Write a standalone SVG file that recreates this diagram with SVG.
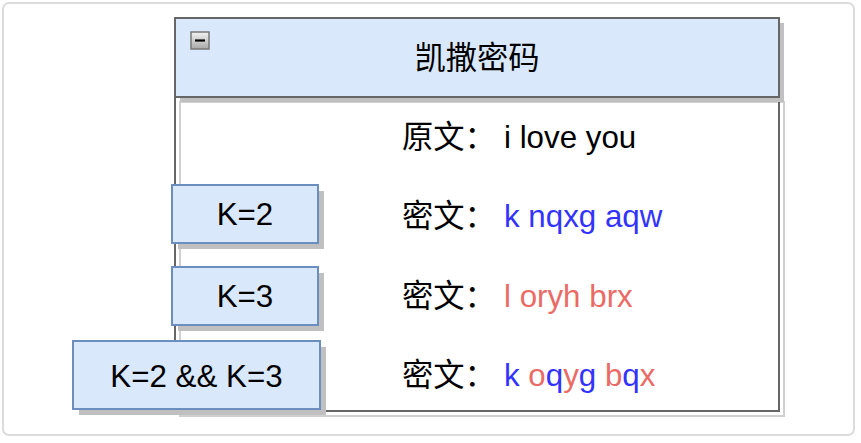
<svg xmlns="http://www.w3.org/2000/svg" width="861" height="443" viewBox="0 0 861 443">
  <defs>
    <linearGradient id="btn" x1="0" y1="0" x2="0" y2="1">
      <stop offset="0" stop-color="#f2f2f2"/>
      <stop offset="1" stop-color="#a8a8a8"/>
    </linearGradient>
    <style>
      text { font-family: "Liberation Sans", "Noto Sans CJK SC", sans-serif; font-size: 31.3px; fill: #000; }
      .box { fill: #dae8fc; stroke: #6c8ebf; stroke-width: 2; }
      .shadow { fill: #c0c0c0; stroke: none; }
      .frame { fill: #dae8fc; stroke: #666666; stroke-width: 2; }
      .body { fill: none; stroke: #666666; stroke-width: 2; }
      .bodyshadow { fill: none; stroke: #d0d0d0; stroke-width: 2; }
      .mid { text-anchor: middle; }
      .blue { fill: #3333ff; }
      .red { fill: #ea6b66; }
    </style>
  </defs>

  <rect x="3" y="3" width="851" height="432" rx="6" ry="6" fill="#ffffff" stroke="#dcdcdc" stroke-width="2"/>

  <g id="container">
    <rect class="bodyshadow" x="180" y="102" width="604" height="314"/>
    <rect class="body" x="175" y="97" width="604" height="314"/>
    <rect class="shadow" x="180" y="23" width="604" height="79"/>
    <rect class="frame" x="175" y="18" width="604" height="79"/>
    <rect x="191" y="32" width="18" height="17" fill="url(#btn)" stroke="#777777" stroke-width="1.5"/>
    <line x1="195" y1="40.5" x2="205" y2="40.5" stroke="#000" stroke-width="2.2"/>
    <text class="mid" x="477" y="69">凯撒密码</text>
  </g>

  <g id="rows">
    <text x="402" y="148">原文：</text>
    <text x="504" y="148">i love you</text>
    <text x="402" y="227">密文：</text>
    <text x="504" y="227" class="blue">k nqxg aqw</text>
    <text x="402" y="307">密文：</text>
    <text x="504" y="307" class="red">l oryh brx</text>
    <text x="402" y="386">密文：</text>
    <text x="504" y="386"><tspan class="blue">k </tspan><tspan class="red">o</tspan><tspan class="blue">q</tspan><tspan class="red">y</tspan><tspan class="blue">g </tspan><tspan class="red">b</tspan><tspan class="blue">q</tspan><tspan class="red">x</tspan></text>
  </g>

  <g id="k2">
    <rect class="shadow" x="178" y="191" width="146" height="58"/>
    <rect class="box" x="172" y="185" width="146" height="58"/>
    <text class="mid" x="245" y="225">K=2</text>
  </g>

  <g id="k3">
    <rect class="shadow" x="178" y="273" width="146" height="58"/>
    <rect class="box" x="172" y="267" width="146" height="58"/>
    <text class="mid" x="245" y="307">K=3</text>
  </g>

  <g id="k23">
    <rect class="shadow" x="79" y="347" width="247" height="68"/>
    <rect class="box" x="73" y="341" width="247" height="68"/>
    <text class="mid" x="196.5" y="387">K=2 &amp;&amp; K=3</text>
  </g>

  <g id="connectors"></g>
</svg>
